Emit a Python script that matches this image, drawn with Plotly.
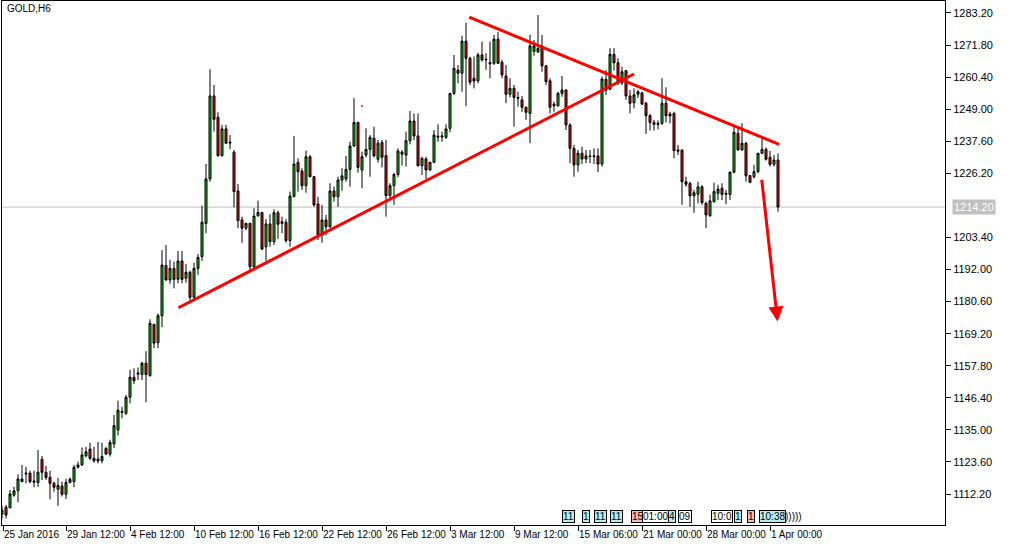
import plotly.graph_objects as go

# ---------------- data (GOLD, H6) ----------------
opens = [1105.0, 1107.5, 1107.3, 1111.8, 1113.4, 1117.5, 1119.3, 1119.6, 1116.4, 1116.3,
         1124.5, 1119.9, 1118.1, 1116.0, 1113.9, 1115.0, 1112.1, 1116.3, 1116.6, 1121.7,
         1122.5, 1125.8, 1128.2, 1124.9, 1124.6, 1124.0, 1128.4, 1126.4, 1130.0, 1135.0,
         1141.2, 1140.9, 1146.6, 1153.7, 1154.8, 1154.7, 1158.7, 1154.3, 1172.5, 1166.0,
         1175.6, 1193.4, 1188.3, 1192.4, 1188.5, 1195.0, 1188.9, 1191.0, 1182.1, 1192.4,
         1196.6, 1208.4, 1224.2, 1253.7, 1246.1, 1232.5, 1242.0, 1237.3, 1233.7, 1219.9,
         1209.6, 1206.7, 1208.4, 1193.0, 1211.1, 1212.3, 1200.1, 1208.2, 1201.9, 1212.2,
         1209.0, 1208.8, 1202.3, 1218.0, 1230.1, 1227.0, 1221.8, 1232.1, 1225.0, 1215.3,
         1204.3, 1209.6, 1207.2, 1219.9, 1217.9, 1223.8, 1224.2, 1227.6, 1235.9, 1244.3,
         1227.4, 1232.7, 1234.7, 1238.7, 1231.2, 1237.2, 1232.5, 1218.3, 1221.8, 1225.8,
         1233.7, 1232.7, 1237.8, 1244.8, 1239.5, 1228.9, 1231.3, 1227.4, 1230.1, 1239.4,
         1239.1, 1239.0, 1242.2, 1254.6, 1262.9, 1261.8, 1273.2, 1267.1, 1260.0, 1259.1,
         1268.3, 1266.8, 1265.1, 1265.3, 1273.9, 1265.7, 1260.8, 1254.3, 1256.4, 1253.2,
         1252.3, 1249.7, 1247.5, 1269.5, 1269.4, 1271.5, 1264.4, 1259.1, 1250.8, 1250.2,
         1254.6, 1255.8, 1243.4, 1235.1, 1229.2, 1233.3, 1231.3, 1232.4, 1232.2, 1232.4,
         1229.5, 1259.6, 1256.1, 1268.5, 1265.5, 1258.4, 1262.7, 1253.7, 1251.3, 1254.3,
         1254.8, 1251.1, 1246.7, 1244.3, 1244.0, 1244.0, 1251.1, 1247.3, 1247.5, 1234.5,
         1234.5, 1223.2, 1222.6, 1218.2, 1218.8, 1221.4, 1215.5, 1211.1, 1216.1, 1219.1,
         1220.9, 1219.1, 1218.7, 1226.6, 1240.4, 1234.5, 1236.9, 1225.4, 1225.0, 1226.8,
         1233.3, 1234.7, 1231.9, 1229.4, 1230.9]
highs = [1108.0, 1108.3, 1113.6, 1114.8, 1119.2, 1122.5, 1121.9, 1120.5, 1120.5, 1127.8,
         1125.7, 1122.2, 1120.5, 1116.6, 1117.9, 1116.6, 1117.6, 1118.1, 1122.5, 1123.7,
         1128.7, 1129.0, 1130.4, 1129.0, 1130.7, 1130.4, 1129.0, 1131.5, 1140.3, 1145.4,
         1143.2, 1147.4, 1156.3, 1156.9, 1157.2, 1159.2, 1163.0, 1174.3, 1172.7, 1176.4,
         1198.9, 1200.7, 1195.4, 1194.8, 1198.6, 1198.6, 1194.0, 1191.6, 1194.4, 1197.5,
         1214.7, 1229.5, 1263.2, 1257.6, 1247.9, 1243.4, 1243.4, 1239.8, 1234.5, 1222.4,
         1210.8, 1208.6, 1208.6, 1213.8, 1216.5, 1212.5, 1209.9, 1211.7, 1213.4, 1212.9,
         1210.8, 1209.9, 1219.7, 1239.5, 1231.5, 1228.0, 1234.3, 1232.7, 1225.3, 1217.9,
         1214.9, 1211.4, 1222.7, 1221.5, 1225.0, 1228.0, 1232.4, 1237.4, 1252.9, 1244.5,
         1233.9, 1242.2, 1239.8, 1242.8, 1238.1, 1238.1, 1238.1, 1222.7, 1226.4, 1235.1,
         1234.5, 1241.0, 1248.4, 1247.5, 1247.5, 1232.1, 1232.1, 1230.3, 1241.6, 1243.6,
         1241.0, 1243.6, 1254.7, 1268.3, 1264.7, 1275.1, 1279.8, 1267.7, 1267.7, 1269.1,
         1273.0, 1268.9, 1273.0, 1275.4, 1276.5, 1266.5, 1264.7, 1260.0, 1257.6, 1255.2,
         1253.7, 1249.9, 1275.4, 1273.6, 1282.5, 1275.4, 1264.7, 1260.0, 1251.7, 1255.2,
         1260.8, 1256.1, 1244.0, 1236.3, 1234.5, 1235.7, 1234.5, 1234.5, 1235.1, 1235.1,
         1260.6, 1262.9, 1270.7, 1270.7, 1267.1, 1264.1, 1262.9, 1255.8, 1256.4, 1255.8,
         1255.2, 1251.7, 1247.3, 1245.2, 1245.0, 1260.0, 1256.8, 1248.1, 1248.1, 1236.3,
         1234.5, 1225.0, 1223.2, 1220.3, 1223.2, 1222.0, 1216.1, 1218.6, 1222.9, 1222.1,
         1222.7, 1220.3, 1226.8, 1242.8, 1242.2, 1244.0, 1237.4, 1225.6, 1229.2, 1233.5,
         1238.6, 1235.4, 1234.2, 1232.7, 1233.3]
lows = [1103.5, 1103.5, 1107.1, 1111.2, 1109.3, 1116.4, 1116.0, 1116.0, 1114.6, 1114.8,
        1117.2, 1117.2, 1110.3, 1113.0, 1108.0, 1111.3, 1110.4, 1116.0, 1114.6, 1121.3,
        1122.2, 1125.2, 1124.3, 1123.3, 1123.1, 1123.1, 1126.1, 1125.5, 1128.5, 1133.0,
        1139.1, 1140.3, 1144.4, 1151.3, 1152.7, 1152.7, 1144.8, 1153.9, 1164.0, 1164.0,
        1171.5, 1188.0, 1186.9, 1185.3, 1187.1, 1187.1, 1187.3, 1180.9, 1181.4, 1190.1,
        1195.1, 1204.9, 1223.2, 1241.0, 1232.1, 1232.1, 1236.6, 1234.8, 1214.1, 1206.7,
        1201.5, 1206.0, 1191.2, 1192.1, 1210.8, 1198.9, 1195.1, 1200.1, 1200.7, 1202.9,
        1204.9, 1201.5, 1200.1, 1217.6, 1219.7, 1220.3, 1219.3, 1224.8, 1214.3, 1202.5,
        1201.5, 1204.3, 1206.7, 1216.1, 1214.3, 1220.0, 1223.2, 1221.5, 1235.7, 1226.4,
        1220.9, 1231.9, 1225.0, 1231.9, 1230.0, 1228.3, 1210.8, 1217.0, 1215.0, 1224.8,
        1229.0, 1228.6, 1236.5, 1238.0, 1228.6, 1225.6, 1224.2, 1227.0, 1229.8, 1237.4,
        1237.4, 1238.4, 1240.8, 1254.0, 1258.2, 1255.2, 1250.1, 1257.6, 1256.4, 1258.2,
        1265.9, 1263.0, 1260.0, 1264.7, 1265.1, 1260.0, 1251.1, 1253.2, 1242.8, 1249.9,
        1248.1, 1245.2, 1236.9, 1268.0, 1268.9, 1262.3, 1257.6, 1247.5, 1248.1, 1249.9,
        1253.4, 1241.6, 1229.8, 1225.0, 1226.8, 1229.5, 1229.8, 1229.8, 1229.5, 1226.6,
        1228.6, 1254.0, 1255.8, 1262.7, 1257.6, 1257.6, 1252.3, 1247.5, 1249.3, 1253.0,
        1250.5, 1240.2, 1241.4, 1241.4, 1241.8, 1243.4, 1244.3, 1244.0, 1231.5, 1232.7,
        1215.0, 1221.4, 1214.3, 1212.2, 1215.5, 1215.0, 1206.7, 1210.8, 1215.8, 1216.7,
        1216.7, 1215.2, 1216.7, 1226.2, 1234.3, 1234.3, 1223.2, 1222.9, 1224.4, 1226.2,
        1233.1, 1230.7, 1228.6, 1228.6, 1212.6]
closes = [1106.5, 1104.7, 1112.2, 1113.3, 1117.5, 1116.6, 1119.6, 1116.6, 1116.8, 1119.9,
          1119.9, 1118.1, 1116.0, 1114.6, 1115.2, 1112.1, 1116.3, 1117.4, 1121.7, 1122.5,
          1126.1, 1127.2, 1124.9, 1124.0, 1124.0, 1125.5, 1126.4, 1130.5, 1136.5, 1142.0,
          1141.5, 1146.6, 1153.7, 1152.5, 1155.2, 1158.7, 1154.7, 1172.9, 1165.8, 1175.6,
          1193.6, 1188.3, 1192.4, 1188.5, 1195.0, 1188.5, 1191.0, 1182.1, 1192.4, 1196.3,
          1208.8, 1224.2, 1253.7, 1245.4, 1232.5, 1242.0, 1236.9, 1237.0, 1219.7, 1209.4,
          1206.7, 1208.4, 1193.0, 1211.0, 1212.3, 1199.3, 1208.2, 1201.9, 1212.2, 1208.1,
          1208.4, 1202.3, 1218.1, 1229.5, 1226.8, 1221.8, 1232.1, 1225.0, 1215.0, 1204.3,
          1209.6, 1207.2, 1219.9, 1217.9, 1223.8, 1225.3, 1227.6, 1235.9, 1244.3, 1228.3,
          1232.1, 1234.7, 1239.0, 1232.4, 1236.9, 1231.9, 1218.3, 1221.8, 1225.8, 1234.1,
          1233.0, 1237.8, 1244.8, 1239.5, 1228.9, 1231.5, 1227.4, 1230.1, 1239.8, 1239.1,
          1239.5, 1242.0, 1254.6, 1263.5, 1261.8, 1273.2, 1267.1, 1258.6, 1259.0, 1268.3,
          1266.5, 1266.6, 1265.5, 1273.9, 1265.3, 1261.2, 1254.3, 1256.4, 1253.2, 1252.9,
          1249.7, 1247.9, 1271.5, 1271.5, 1270.6, 1264.4, 1258.8, 1249.7, 1250.2, 1254.6,
          1255.8, 1243.4, 1235.1, 1229.2, 1233.3, 1231.3, 1232.4, 1232.2, 1232.4, 1229.5,
          1259.7, 1255.8, 1268.5, 1265.5, 1258.4, 1262.3, 1253.7, 1251.1, 1254.1, 1255.2,
          1250.8, 1246.7, 1244.3, 1243.6, 1243.6, 1251.1, 1246.7, 1246.6, 1234.3, 1234.1,
          1223.2, 1222.3, 1218.2, 1219.3, 1221.4, 1215.8, 1211.4, 1216.4, 1219.7, 1220.6,
          1218.7, 1218.8, 1226.6, 1240.8, 1234.5, 1236.9, 1225.3, 1223.0, 1226.8, 1233.3,
          1234.7, 1231.2, 1229.4, 1230.9, 1214.2]
bar_index = list(range(len(opens)))

x_tick_bars = [0.25, 16, 32, 48, 64, 80, 96, 112, 128, 144, 160, 176, 192]
x_tick_labels = ["25 Jan 2016", "29 Jan 12:00", "4 Feb 12:00", "10 Feb 12:00",
                 "16 Feb 12:00", "22 Feb 12:00", "26 Feb 12:00", "3 Mar 12:00",
                 "9 Mar 12:00", "15 Mar 06:00", "21 Mar 00:00", "28 Mar 00:00",
                 "1 Apr 00:00"]
y_tick_values = [1112.2, 1123.6, 1135.0, 1146.4, 1157.8, 1169.2, 1180.6, 1192.0,
                 1203.4, 1226.2, 1237.6, 1249.0, 1260.4, 1271.8, 1283.2]
current_price = 1214.2

support_x = [44.1, 158.0]
support_y = [1178.4, 1261.5]
resistance_x = [116.8, 194.3]
resistance_y = [1281.7, 1236.5]
arrow_from = (189.9, 1224.4)
arrow_to = (193.9, 1173.5)
dot_point = (90.0, 1250.1)

# trade-history tags along the time axis (bar position, text, colour)
tag_bars = [140.0, 145.0, 148.0, 152.0, 157.2, 160.1, 166.5, 169.0, 177.2, 183.0, 186.2, 189.2]
tag_texts = ["11", "1", "11", "11", "15", "01:00", "4", "09", "10:0", "1", "1", "10:38"]
tag_kinds = ["c", "c", "c", "c", "p", "w", "c", "w", "w", "c", "p", "c"]
chevron_bar = 195.2

# ---------------- figure ----------------
FONT = "Liberation Sans"
fig = go.Figure()

fig.add_trace(go.Candlestick(
    x=bar_index, open=opens, high=highs, low=lows, close=closes,
    increasing=dict(line=dict(color="black", width=1), fillcolor="#00c800"),
    decreasing=dict(line=dict(color="black", width=1), fillcolor="#ff0000"),
    whiskerwidth=0, showlegend=False, hoverinfo="skip"))

fig.add_trace(go.Scatter(x=[dot_point[0]], y=[dot_point[1]], mode="markers",
                         marker=dict(color="red", size=2), showlegend=False,
                         hoverinfo="skip"))

# current price line
fig.add_shape(type="line", xref="paper", x0=0, x1=1, yref="y",
              y0=current_price, y1=current_price,
              line=dict(color="#c0c0c0", width=1), layer="below")

# trend lines
fig.add_shape(type="line", xref="x", yref="y", x0=support_x[0], y0=support_y[0],
              x1=support_x[1], y1=support_y[1], line=dict(color="#ff0000", width=3))
fig.add_shape(type="line", xref="x", yref="y", x0=resistance_x[0], y0=resistance_y[0],
              x1=resistance_x[1], y1=resistance_y[1], line=dict(color="#ff0000", width=3))

# arrow
fig.add_annotation(x=arrow_to[0], y=arrow_to[1], ax=arrow_from[0], ay=arrow_from[1],
                   xref="x", yref="y", axref="x", ayref="y", text="",
                   showarrow=True, arrowhead=2, arrowsize=1.0, arrowwidth=3,
                   arrowcolor="#ff0000")

# title
fig.add_annotation(text="GOLD,H6", xref="paper", yref="paper", x=0, y=1,
                   xanchor="left", yanchor="top", xshift=3, yshift=0,
                   showarrow=False, font=dict(family=FONT, size=10, color="black"))

# current price label
fig.add_annotation(text="%.2f" % current_price, xref="paper", yref="y", x=1,
                   y=current_price, xanchor="left", yanchor="middle", xshift=7,
                   showarrow=False, bgcolor="#c0c0c0", borderpad=1,
                   font=dict(family=FONT, size=11, color="white"))

# trade tags
tag_colors = {"c": "#b4eef4", "p": "#f8b8c0", "w": "#ffffff"}
for b, t, k in zip(tag_bars, tag_texts, tag_kinds):
    fig.add_annotation(text=t, xref="x", yref="paper", x=b, y=0.017,
                       xanchor="left", yanchor="middle", showarrow=False,
                       bgcolor=tag_colors[k], bordercolor="black", borderwidth=1,
                       borderpad=0, font=dict(family=FONT, size=10, color="black"))
fig.add_annotation(text=")))))", xref="x", yref="paper", x=chevron_bar, y=0.017,
                   xanchor="left", yanchor="middle", showarrow=False,
                   font=dict(family=FONT, size=10, color="black"))

fig.update_layout(
    width=1012, height=547,
    margin=dict(l=2, r=67, t=1, b=22, autoexpand=False),
    paper_bgcolor="white", plot_bgcolor="white",
    boxgap=0.5, boxgroupgap=0,
    font=dict(family=FONT, size=10, color="black"),
    xaxis=dict(range=[0, 235.75], showgrid=False, zeroline=False,
               showline=True, mirror=True, linecolor="black", linewidth=1,
               ticks="outside", ticklen=5, tickcolor="black",
               tickvals=x_tick_bars, ticktext=x_tick_labels, tickangle=0,
               ticklabelposition="outside right", automargin=False,
               tickfont=dict(family=FONT, size=10, color="black"),
               rangeslider=dict(visible=False), fixedrange=True),
    yaxis=dict(range=[1101.18, 1287.46], side="right", showgrid=False,
               zeroline=False, showline=True, mirror=True, linecolor="black",
               linewidth=1, ticks="outside", ticklen=5, tickcolor="black",
               tickvals=y_tick_values, automargin=False,
               tickfont=dict(family=FONT, size=11, color="black"),
               ticktext=["%.2f" % v for v in y_tick_values], fixedrange=True),
)

fig.write_html("out.html", config={"displayModeBar": False},
               post_script="document.body.style.margin='0px';document.body.style.padding='0px';")
